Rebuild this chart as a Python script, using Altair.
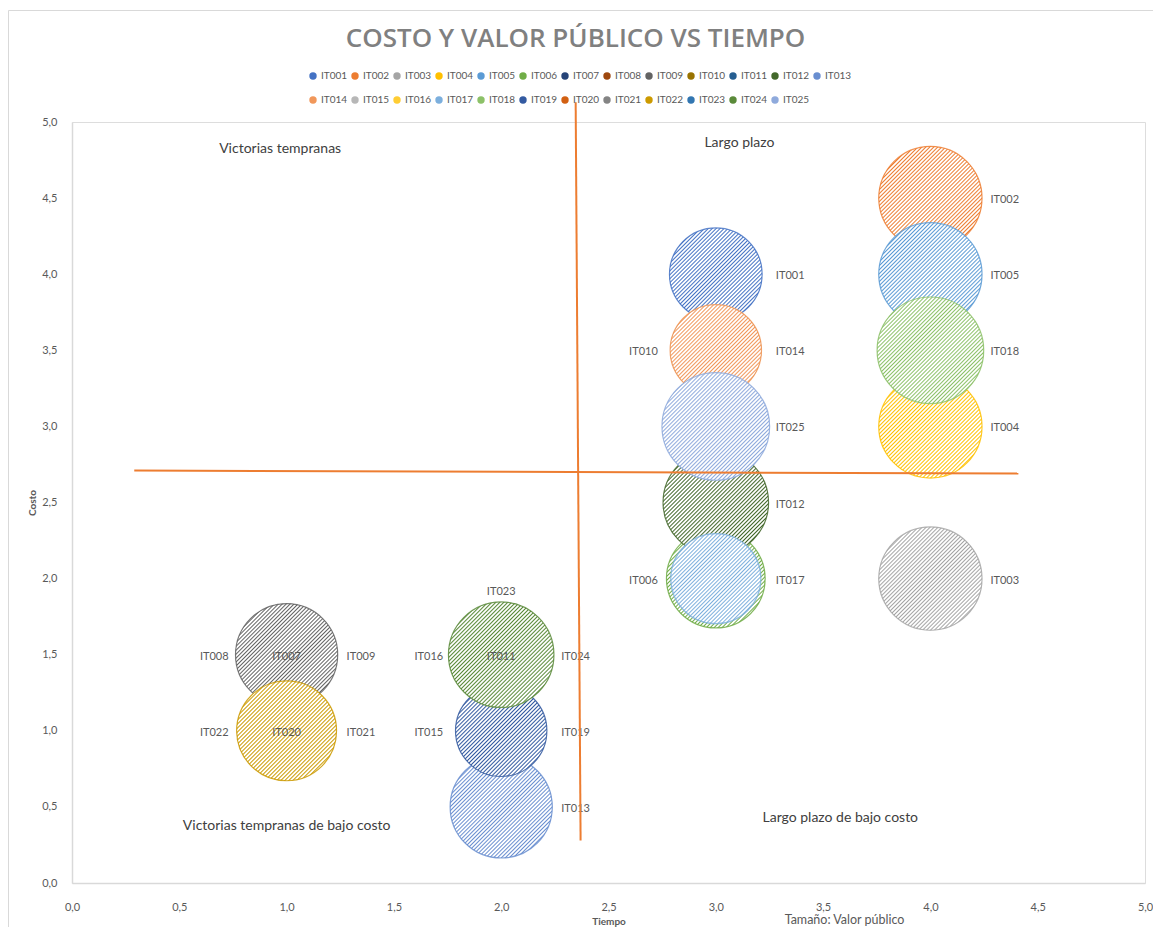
import math
import altair as alt
import pandas as pd

# ---------------- data ----------------
ids = ["IT001", "IT002", "IT003", "IT004", "IT005", "IT006", "IT007", "IT008", "IT009",
       "IT010", "IT011", "IT012", "IT013", "IT014", "IT015", "IT016", "IT017", "IT018",
       "IT019", "IT020", "IT021", "IT022", "IT023", "IT024", "IT025"]
tiempo = [3, 4, 4, 4, 4, 3, 1, 1, 1, 3, 2, 3, 2, 3, 2, 2, 3, 4, 2, 1, 1, 1, 2, 2, 3]
costo = [4.0, 4.5, 2.0, 3.0, 4.0, 2.0, 1.5, 1.5, 1.5, 3.5, 1.5, 2.5, 0.5, 3.5, 1.0,
         1.5, 2.0, 3.5, 1.0, 1.0, 1.0, 1.0, 1.5, 1.5, 3.0]
valor = [3.7, 4.6, 4.6, 4.6, 4.6, 4.2, 4.0, 4.0, 4.5, 3.5, 4.0, 4.8, 4.5, 3.6, 3.5,
         4.0, 3.5, 4.9, 3.6, 4.0, 4.0, 4.3, 4.0, 4.8, 5.0]

quad_text = ["Victorias tempranas", "Largo plazo",
             "Victorias tempranas de bajo costo", "Largo plazo de bajo costo"]
quad_x = [0.97, 3.11, 1.0, 3.58]
quad_y = [4.82, 4.86, 0.375, 0.43]

note_text = ["Tamaño: Valor público"]
note_x = [3.6]
note_y = [-0.243]

line_x = [0.29, 2.347]
line_y = [2.71, 5.13]
line_x2 = [4.41, 2.37]
line_y2 = [2.69, 0.28]

tick_values = [0, 0.5, 1, 1.5, 2, 2.5, 3, 3.5, 4, 4.5, 5]

# ---------------- style ----------------
colors = ["#4472C4", "#ED7D31", "#A5A5A5", "#FFC000", "#5B9BD5", "#70AD47",
          "#264478", "#9E480E", "#636363", "#997300", "#255E91", "#43682B",
          "#698ED0", "#F1975A", "#B7B7B7", "#FFCD33", "#7CAFDD", "#8CC168",
          "#335AA1", "#D26012", "#848484", "#CC9A00", "#3276B1", "#5A8A39",
          "#8FAADC"]
label_side = {
    "left": ["IT006", "IT008", "IT010", "IT015", "IT016", "IT022"],
    "center": ["IT007", "IT011", "IT020"],
    "top": ["IT023"],
}
W, H = 1073, 761
SIZE_MAX = 11600  # bounding-box area of the largest bubble
FONT = "Lato"
GRAY = "#595959"

df = pd.DataFrame({"id": ids, "tiempo": tiempo, "costo": costo, "valor": valor})
side = []
for i in ids:
    s = "right"
    for k, v in label_side.items():
        if i in v:
            s = k
    side.append(s)
df["side"] = side

fmt = "replace(format(datum.value, '.1f'), '.', ',')"
xscale = alt.Scale(domain=[0, 5], nice=False, zero=False)
yscale = alt.Scale(domain=[0, 5], nice=False, zero=False)
sscale = alt.Scale(domain=[0, 5], range=[0, SIZE_MAX], zero=True)

xaxis = alt.Axis(values=tick_values, labelExpr=fmt, title="Tiempo", grid=False, ticks=False,
                 domainColor="#d9d9d9", domainWidth=1.5, labelPadding=18, titlePadding=4,
                 labelFlush=False,
                 labelFontSize=11, labelColor=GRAY, labelFont=FONT,
                 titleFontSize=10, titleFontWeight="bold", titleColor=GRAY, titleFont=FONT)
yaxis = alt.Axis(values=tick_values, labelExpr=fmt, title="Costo", grid=False, ticks=False,
                 domainColor="#d9d9d9", domainWidth=1.5, labelPadding=15, titlePadding=4,
                 labelFlush=False,
                 labelFontSize=11, labelColor=GRAY, labelFont=FONT,
                 titleFontSize=10, titleFontWeight="bold", titleColor=GRAY, titleFont=FONT)

X = alt.X("tiempo:Q", scale=xscale, axis=xaxis)
Y = alt.Y("costo:Q", scale=yscale, axis=yaxis)
S = alt.Size("valor:Q", scale=sscale, legend=None)

base = alt.Chart(df).encode(x=X, y=Y, size=S)


def hatch(color, value):
    # fine diagonal hatching: thin coloured lines on white, as a repeating linear gradient
    d = math.sqrt(value / 5 * SIZE_MAX)
    periods = max(10, round(d * math.sqrt(2) / 2.8))
    stops = []
    for k in range(periods):
        stops.append({"offset": k / periods, "color": color})
        stops.append({"offset": (k + 0.36) / periods, "color": "#ffffff"})
        stops.append({"offset": (k + 0.64) / periods, "color": "#ffffff"})
    stops.append({"offset": 1, "color": color})
    return {"gradient": "linear", "x1": 0, "y1": 0, "x2": 1, "y2": 1, "stops": stops}


border = alt.Chart(pd.DataFrame({"a": [0]})).mark_rect(
    fillOpacity=0, stroke="#d9d9d9", strokeWidth=1
).encode(x=alt.value(-63.5), x2=alt.value(3000), y=alt.value(-111.5), y2=alt.value(3000))

legend_layer = base.mark_circle(opacity=1).encode(
    color=alt.Color("id:N", scale=alt.Scale(domain=ids, range=colors),
                    legend=alt.Legend(orient="none", legendX=236, legendY=-51,
                                      direction="horizontal", columns=13, title=None,
                                      symbolType="circle", symbolSize=55,
                                      symbolStrokeWidth=0, labelFontSize=10,
                                      labelColor=GRAY, labelFont=FONT, labelOffset=3,
                                      columnPadding=2, rowPadding=14))
)

bubbles = []
for i, c, v in zip(ids, colors, valor):
    bubbles.append(
        base.transform_filter(alt.datum.id == i).mark_circle(
            fill=hatch(c, v), stroke=c, strokeWidth=1.2, strokeOpacity=0.8, opacity=1)
    )

lab = alt.Chart(df).encode(x=X, y=Y, text="id:N")
lab_common = dict(font=FONT, fontSize=11, color=GRAY, baseline="middle")
labels_right = lab.transform_filter(alt.datum.side == "right").mark_text(align="left", dx=60, dy=2, **lab_common)
labels_left = lab.transform_filter(alt.datum.side == "left").mark_text(align="right", dx=-58, dy=2, **lab_common)
labels_center = lab.transform_filter(alt.datum.side == "center").mark_text(align="center", dy=2, **lab_common)
labels_top = lab.transform_filter(alt.datum.side == "top").mark_text(align="center", dy=-63, **lab_common)

quad = alt.Chart(pd.DataFrame({"t": quad_text, "x": quad_x, "y": quad_y})).mark_text(
    font=FONT, fontSize=14, color="#404040", align="center", baseline="middle"
).encode(x=alt.X("x:Q", scale=xscale, axis=xaxis), y=alt.Y("y:Q", scale=yscale, axis=yaxis), text="t:N")

note = alt.Chart(pd.DataFrame({"t": note_text, "x": note_x, "y": note_y})).mark_text(
    font=FONT, fontSize=12.5, color=GRAY, align="center", baseline="middle"
).encode(x=alt.X("x:Q", scale=xscale, axis=xaxis), y=alt.Y("y:Q", scale=yscale, axis=yaxis), text="t:N")

lines = alt.Chart(pd.DataFrame({"x": line_x, "y": line_y, "x2": line_x2, "y2": line_y2})).mark_rule(
    color="#ED7D31", strokeWidth=2
).encode(x=alt.X("x:Q", scale=xscale, axis=xaxis), y=alt.Y("y:Q", scale=yscale, axis=yaxis),
         x2="x2:Q", y2="y2:Q")

chart = alt.layer(
    border, legend_layer, *bubbles, labels_right, labels_left, labels_center, labels_top,
    quad, note, lines
).properties(
    width=W, height=H,
    title=alt.Title("COSTO Y VALOR PÚBLICO VS TIEMPO", fontSize=26, font="Open Sans",
                    fontWeight=600, color="#808080", anchor="middle", frame="group",
                    offset=-42, dx=-33),
    autosize=alt.AutoSizeParams(type="none"),
    padding={"left": 64, "top": 114, "right": 8, "bottom": 44},
).configure_view(stroke=None).configure(background="white")

chart.save("out.html", embed_options={"renderer": "svg", "actions": False})
